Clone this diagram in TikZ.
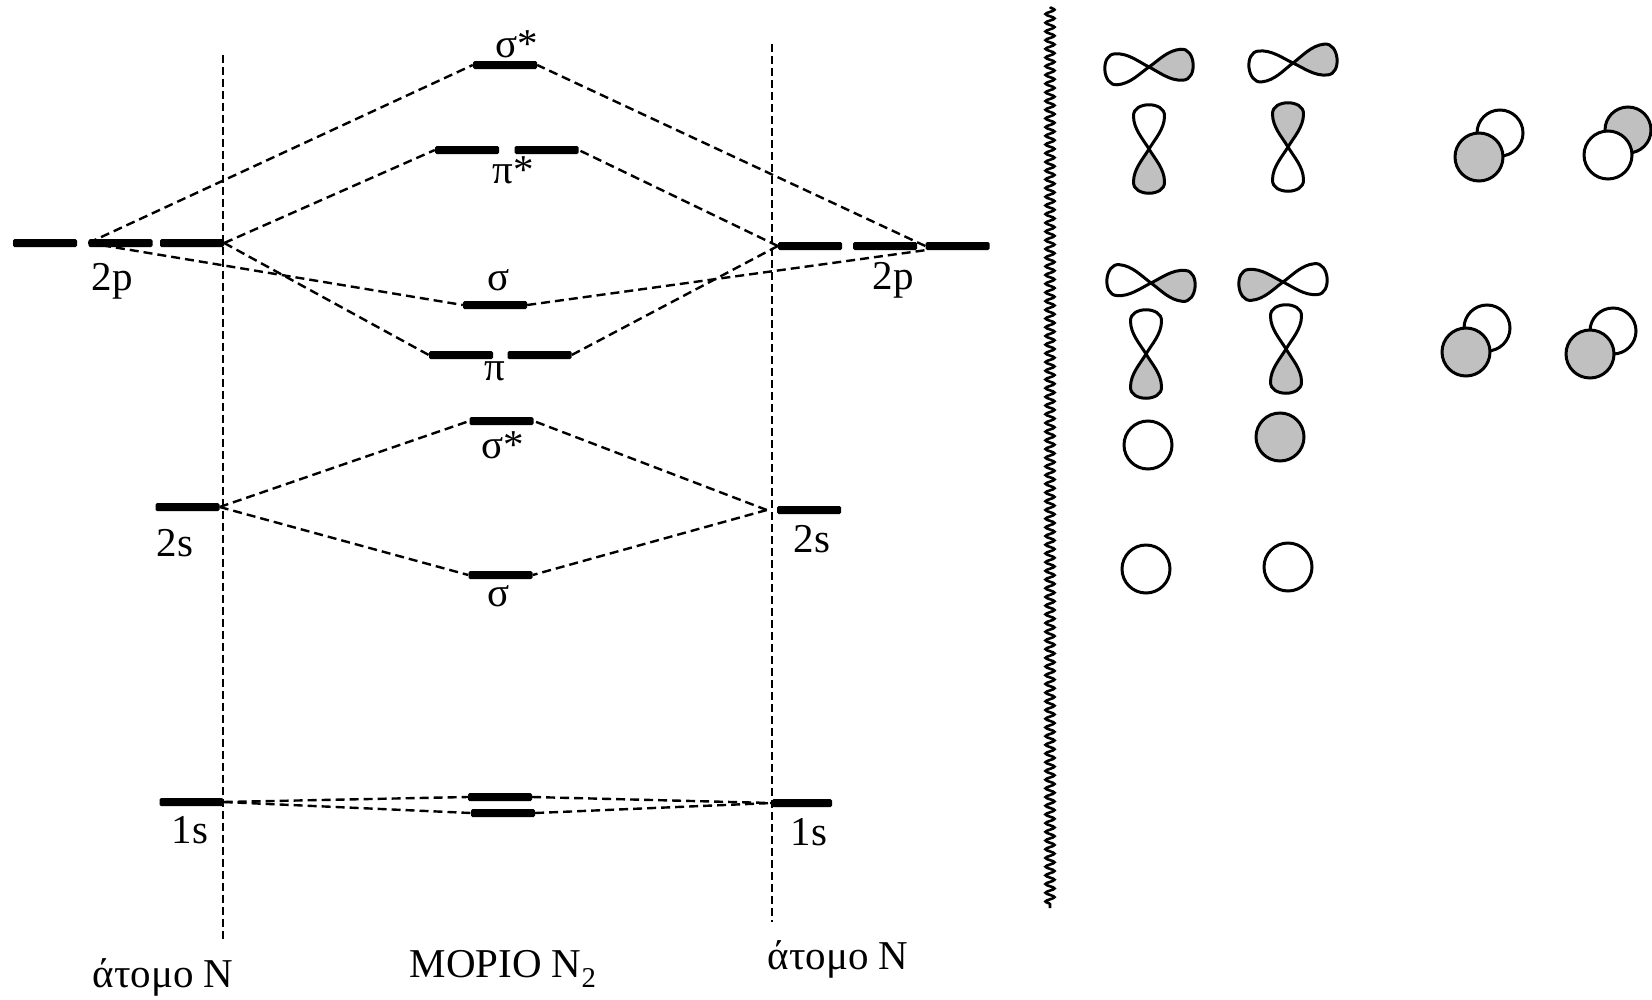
\documentclass[tikz,border=0pt]{standalone}
\usepackage{fontspec}
\setmainfont{Liberation Serif}
\usetikzlibrary{decorations.pathmorphing}

\definecolor{lobegray}{RGB}{192,192,192}

\tikzset{
  lobe/.pic={
    \draw[fill=#1] (0,0) .. controls (10,6) and (20,15.5) .. (33,15.5)
      .. controls (48,16) and (48,-16) .. (33,-15.5)
      .. controls (20,-15.5) and (10,-6) .. (0,0);
  },
  lobe/.default=white
}

\begin{document}
\begin{tikzpicture}[x=1pt, y=-1pt,
  elevel/.style={fill, inner sep=0pt, minimum height=8pt, minimum width=64pt, rounded corners=1.5pt},
  link/.style={line width=2.4pt, dash pattern=on 9pt off 5pt},
  guide/.style={line width=2.2pt, dash pattern=on 8pt off 4pt},
  lbl/.style={anchor=base, inner sep=0pt},
  orb/.style={line width=3pt},
  font=\fontsize{41}{48}\selectfont]
\useasboundingbox (0,0) rectangle (1652,999);

\draw[guide] (223,55) -- (223,941);
\draw[guide] (772,44) -- (772,922);

\node[elevel] (A2p1) at (45,243) {};
\node[elevel] (A2p2) at (120.5,243) {};
\node[elevel] (A2p3) at (192,243) {};
\node[elevel] (A2s) at (187.5,507) {};
\node[elevel] (A1s) at (191.5,802) {};

\node[elevel] (B2p1) at (810,246) {};
\node[elevel] (B2p2) at (885,246) {};
\node[elevel] (B2p3) at (957.5,246) {};
\node[elevel] (B2s) at (809,510) {};
\node[elevel, minimum width=60pt] (B1s) at (802,803) {};

\node[elevel] (Msx) at (505,65) {};
\node[elevel] (Mpx1) at (467,150) {};
\node[elevel] (Mpx2) at (546.5,150) {};
\node[elevel] (Msg) at (495,305) {};
\node[elevel] (Mpi1) at (461,355) {};
\node[elevel] (Mpi2) at (539.5,355) {};
\node[elevel] (M2sx) at (501.5,421) {};
\node[elevel] (M2sg) at (500.5,575) {};
\node[elevel] (M1sa) at (500,797) {};
\node[elevel] (M1sb) at (503,813) {};

\draw[link] (A2p2.west) -- (Msx.west);
\draw[link] (A2p2.west) -- (Msg.west);
\draw[link] (A2p3.east) -- (Mpx1.west);
\draw[link] (A2p3.east) -- (Mpi1.west);
\draw[link] (B2p1.west) -- (Mpx2.east);
\draw[link] (B2p1.west) -- (Mpi2.east);
\draw[link] (B2p3.west) -- (Msx.east);
\draw[link] (Msg.east) -- (B2p3.south west);

\draw[link] (A2s.east) -- (M2sx.west);
\draw[link] (A2s.east) -- (M2sg.west);
\draw[link] ([xshift=-10pt]B2s.west) -- (M2sx.east);
\draw[link] ([xshift=-10pt]B2s.west) -- (M2sg.east);

\draw[link] (A1s.east) -- (M1sa.west);
\draw[link] (A1s.east) -- (M1sb.west);
\draw[link] (M1sa.east) -- (B1s.west);
\draw[link] (M1sb.east) -- (B1s.west);

\node[lbl] (tsx) at (517,57) {σ*};
\node[lbl] (tpx) at (513,183) {π*};
\node[lbl] (tsg) at (499,290) {σ};
\node[lbl] (tpi) at (495,380) {π};
\node[lbl] (t2sx) at (503,458) {σ*};
\node[lbl] (t2sg) at (499,606) {σ};
\node[lbl] (tA2p) at (112,290) {2p};
\node[lbl] (tB2p) at (893,289) {2p};
\node[lbl] (tA2s) at (175,556) {2s};
\node[lbl] (tB2s) at (812,552) {2s};
\node[lbl] (tA1s) at (190,843) {1s};
\node[lbl] (tB1s) at (809,845) {1s};
\node[lbl] (tA) at (163,987) {άτομο Ν};
\node[lbl] (tM) at (503,977) {ΜΟΡΙΟ Ν\textsubscript{2}};
\node[lbl] (tB) at (838,969) {άτομο Ν};

\draw[line width=2.6pt, decorate, decoration={snake, amplitude=4.5pt, segment length=8.7pt}] (1050,7) -- (1050,908);

\begin{scope}[orb]
\pic[rotate=184] at (1149,67) {lobe=white};
\pic[rotate=4] at (1149,67) {lobe=lobegray};
\pic[rotate=186] at (1293,63) {lobe=white};
\pic[rotate=6] at (1293,63) {lobe=lobegray};
\pic[rotate=90] at (1149,149) {lobe=white};
\pic[rotate=-90] at (1149,149) {lobe=lobegray};
\pic[rotate=90] at (1288,147) {lobe=lobegray};
\pic[rotate=-90] at (1288,147) {lobe=white};

\pic[rotate=175] at (1151,283) {lobe=white};
\pic[rotate=-5] at (1151,283) {lobe=lobegray};
\pic[rotate=185] at (1283,282) {lobe=lobegray};
\pic[rotate=5] at (1283,282) {lobe=white};
\pic[rotate=90] at (1146,354) {lobe=white};
\pic[rotate=-90] at (1146,354) {lobe=lobegray};
\pic[rotate=90] at (1286,349) {lobe=white};
\pic[rotate=-90] at (1286,349) {lobe=lobegray};

\draw[fill=white] (1148,445) circle (24);
\draw[fill=lobegray] (1280,437) circle (24);
\draw[fill=white] (1146,569) circle (24);
\draw[fill=white] (1288,567) circle (24);

\draw[fill=white] (1500,133) circle (23);
\draw[fill=lobegray] (1479,157) circle (24);
\draw[fill=lobegray] (1628,130) circle (23);
\draw[fill=white] (1608,155) circle (24);
\draw[fill=white] (1487,328) circle (23);
\draw[fill=lobegray] (1466,352) circle (24);
\draw[fill=white] (1613,331) circle (23);
\draw[fill=lobegray] (1590,354) circle (24);
\end{scope}
\end{tikzpicture}
\end{document}
